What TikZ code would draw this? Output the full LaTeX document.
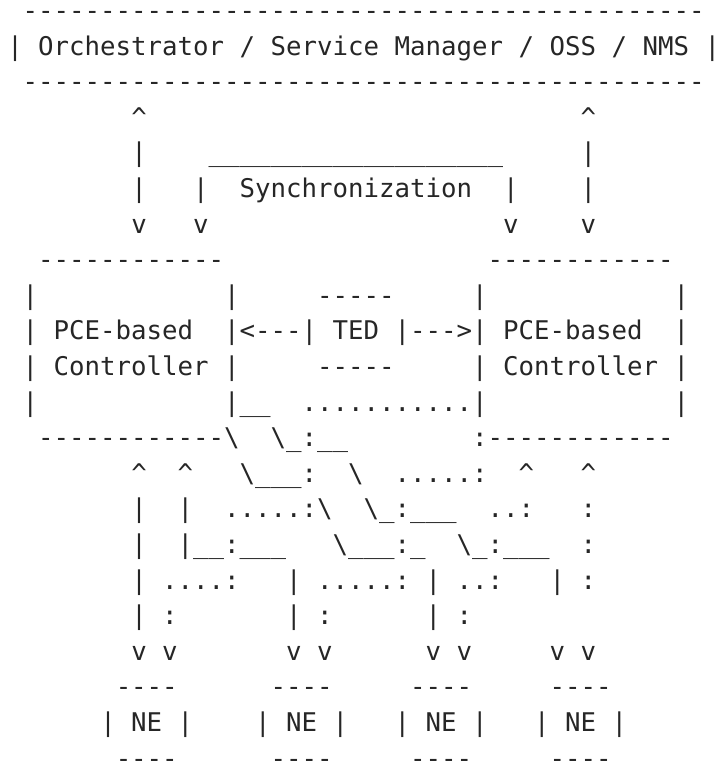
\documentclass[tikz,border=0pt]{standalone}
\usepackage{fontspec}
\setmonofont{DejaVu Sans Mono}
\ExplSyntaxOn
\cs_new:Npn \arep #1#2 { \prg_replicate:nn {#1} {#2} }
\ExplSyntaxOff
\newcommand\askip[1]{\hspace*{#1\dimexpr15.5pt\relax}}
\newcommand\ca{\textasciicircum}
\newcommand\bs{\textbackslash}
\definecolor{ink}{RGB}{38,38,38}
\tikzset{
  asc/.style={anchor=base west, inner sep=0pt, outer sep=0pt, text=ink,
    font=\ttfamily\fontsize{25.745pt}{30pt}\selectfont}
}
\begin{document}
\begin{tikzpicture}[x=1pt,y=1pt]
\fill[white] (0,0) rectangle (718,-763);
\useasboundingbox (0,0) rectangle (718,-763);
\node[asc] (l1)  at (7.25,-19.4)  {\askip{1}\arep{44}{-}};
\node[asc] (l2)  at (7.25,-55.0)  {|~Orchestrator~/~Service~Manager~/~OSS~/~NMS~|};
\node[asc] (l3)  at (7.25,-90.6)  {\askip{1}\arep{44}{-}};
\node[asc] (l4)  at (7.25,-126.2) {\askip{8}\ca\askip{28}\ca};
\node[asc] (l5)  at (7.25,-161.8) {\askip{8}|\askip{4}\arep{19}{\_}\askip{5}|};
\node[asc] (l6)  at (7.25,-197.4) {\askip{8}|\askip{3}|\askip{2}Synchronization\askip{2}|\askip{4}|};
\node[asc] (l7)  at (7.25,-233.0) {\askip{8}v\askip{3}v\askip{19}v\askip{4}v};
\node[asc] (l8)  at (7.25,-268.6) {\askip{2}\arep{12}{-}\askip{17}\arep{12}{-}};
\node[asc] (l9)  at (7.25,-304.2) {\askip{1}|\askip{12}|\askip{5}\arep{5}{-}\askip{5}|\askip{12}|};
\node[asc] (l10) at (7.25,-339.8) {\askip{1}|~PCE-based\askip{2}|<---|~TED~|--->|~PCE-based\askip{2}|};
\node[asc] (l11) at (7.25,-375.4) {\askip{1}|~Controller~|\askip{5}\arep{5}{-}\askip{5}|~Controller~|};
\node[asc] (l12) at (7.25,-411.0) {\askip{1}|\askip{12}|\_\_\askip{2}\arep{11}{.}|\askip{12}|};
\node[asc] (l13) at (7.25,-446.6) {\askip{2}\arep{12}{-}\bs\askip{2}\bs\_:\_\_\askip{8}:\arep{12}{-}};
\node[asc] (l14) at (7.25,-482.2) {\askip{8}\ca\askip{2}\ca\askip{3}\bs\_\_\_:\askip{2}\bs\askip{2}.....:\askip{2}\ca\askip{3}\ca};
\node[asc] (l15) at (7.25,-517.8) {\askip{8}|\askip{2}|\askip{2}.....:\bs\askip{2}\bs\_:\_\_\_\askip{2}..:\askip{3}:};
\node[asc] (l16) at (7.25,-553.4) {\askip{8}|\askip{2}|\_\_:\_\_\_\askip{3}\bs\_\_\_:\_\askip{2}\bs\_:\_\_\_\askip{2}:};
\node[asc] (l17) at (7.25,-589.0) {\askip{8}|~....:\askip{3}|~.....:~|~..:\askip{3}|~:};
\node[asc] (l18) at (7.25,-624.6) {\askip{8}|~:\askip{7}|~:\askip{6}|~:};
\node[asc] (l19) at (7.25,-660.2) {\askip{8}v~v\askip{7}v~v\askip{6}v~v\askip{5}v~v};
\node[asc] (l20) at (7.25,-695.8) {\askip{7}----\askip{6}----\askip{5}----\askip{5}----};
\node[asc] (l21) at (7.25,-731.4) {\askip{6}|~NE~|\askip{4}|~NE~|\askip{3}|~NE~|\askip{3}|~NE~|};
\node[asc] (l22) at (7.25,-767.0) {\askip{7}----\askip{6}----\askip{5}----\askip{5}----};
\end{tikzpicture}
\end{document}
